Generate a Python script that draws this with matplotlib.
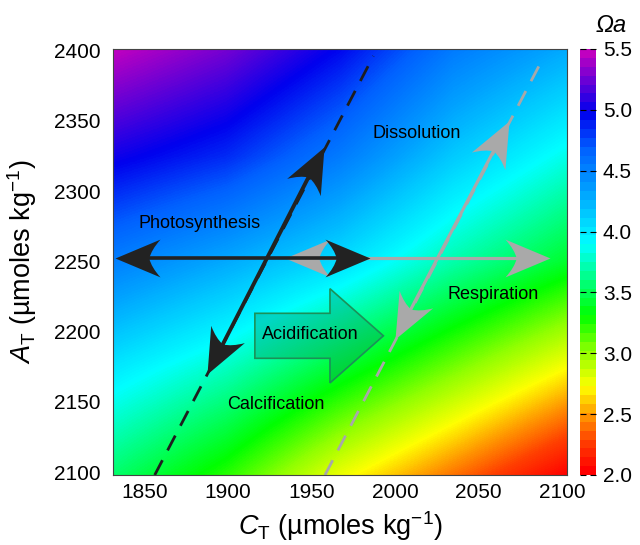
import numpy as np
import matplotlib
matplotlib.use("Agg")
import matplotlib.pyplot as plt
from matplotlib.colors import LinearSegmentedColormap, Normalize
from matplotlib.markers import MarkerStyle
from matplotlib.path import Path
from matplotlib.patches import FancyArrow
from matplotlib.transforms import Affine2D
import matplotlib.cm as cm

plt.rcParams['font.family'] = ['Liberation Sans', 'DejaVu Sans']
plt.rcParams['mathtext.fontset'] = 'custom'
plt.rcParams['mathtext.rm'] = 'Liberation Sans'
plt.rcParams['mathtext.it'] = 'Liberation Sans:italic'

ct_nodes = [1831, 1899, 1967, 2035, 2103]
at_nodes = [2098, 2174, 2250, 2325, 2401]
omega = [
    [3.55, 3.22, 2.75, 2.38, 2.00],   # AT 2098
    [4.00, 3.75, 3.40, 3.05, 2.70],
    [4.52, 4.30, 4.05, 3.70, 3.40],
    [5.04, 4.87, 4.55, 4.15, 3.85],
    [5.50, 5.30, 4.98, 4.55, 4.30],   # AT 2401
]

# colour scale
cmap_vals = [2.0, 2.25, 2.45, 2.7, 3.0, 3.3, 3.9, 4.35, 4.7, 5.0, 5.5]
cmap_colors = ['#ff0000', '#ff4000', '#ff9000', '#ffff00', '#90ff00', '#00ff00',
               '#00ffff', '#00a0ff', '#0060ff', '#0000ee', '#c000c0']
cbar_ticks = [2.0, 2.5, 3.0, 3.5, 4.0, 4.5, 5.0, 5.5]

# process lines (CT, AT)
calc_line_ct = [1856, 1987]
calc_line_at = [2098, 2396]
resp_line_ct = [1958, 2088]
resp_line_at = [2098, 2393]

# arrows
calc_arrow_ct = [1887.5, 1957.5]
calc_arrow_at = [2169.5, 2331.5]
photo_arrow_ct = [1832, 1985]
photo_arrow_at = [2252, 2252]
resp_arrow_ct = [1934, 2093]
resp_arrow_at = [2252, 2252]
diss_arrow_ct = [2000, 2068.5]
diss_arrow_at = [2194.5, 2350]
acid_ct = [1916, 1993]
acid_at = 2197

labels = ['Dissolution', 'Photosynthesis', 'Respiration', 'Acidification', 'Calcification']
label_ct = [2013, 1883, 2058.5, 1949, 1928.5]
label_at = [2341, 2277, 2226.5, 2198, 2148]

xlim = (1831, 2103)
ylim = (2098, 2401)

fig = plt.figure(figsize=(6.4, 5.45), dpi=100)
ax = fig.add_axes([113 / 640, 70 / 545, 454 / 640, 426 / 545])

cmap = LinearSegmentedColormap.from_list(
    'omega', [((v - 2.0) / 3.5, c) for v, c in zip(cmap_vals, cmap_colors)])
norm = Normalize(2.0, 5.5)

dct = (ct_nodes[-1] - ct_nodes[0]) / (len(ct_nodes) - 1)
dat = (at_nodes[-1] - at_nodes[0]) / (len(at_nodes) - 1)
ax.imshow(np.array(omega), origin='lower', cmap=cmap, norm=norm, aspect='auto',
          interpolation='bilinear', interpolation_stage='data',
          extent=[ct_nodes[0] - dct / 2, ct_nodes[-1] + dct / 2,
                  at_nodes[0] - dat / 2, at_nodes[-1] + dat / 2])
ax.set_xlim(*xlim)
ax.set_ylim(*ylim)

ax.plot(calc_line_ct, calc_line_at, color='#1e1e1e', lw=2, dashes=(6, 4), zorder=2)
ax.plot(resp_line_ct, resp_line_at, color='#a8a8a8', lw=2, dashes=(6, 4), zorder=2)


def head_marker(angle):
    # arrowhead with tip at the origin and a concave, notched back
    verts = [(0, 0), (-1, 0.42), (-0.8, 0.2), (-0.75, 0),
             (-0.8, -0.2), (-1, -0.42), (0, 0)]
    codes = [Path.MOVETO, Path.LINETO, Path.CURVE3, Path.CURVE3,
             Path.CURVE3, Path.CURVE3, Path.CLOSEPOLY]
    return MarkerStyle(Path(verts, codes), transform=Affine2D().rotate_deg(angle))


def double_arrow(ct, at, color, lw, zorder, head_px=45):
    p0, p1 = ax.transData.transform([(ct[0], at[0]), (ct[1], at[1])])
    d = p1 - p0
    u = d / np.hypot(*d)
    ang = np.degrees(np.arctan2(d[1], d[0]))
    notch = 0.72 * head_px
    s0, s1 = ax.transData.inverted().transform([p0 + u * notch, p1 - u * notch])
    ax.plot([s0[0], s1[0]], [s0[1], s1[1]], color=color, lw=lw,
            solid_capstyle='butt', zorder=zorder)
    ms = 2 * head_px * 72 / fig.dpi
    ax.plot(ct[1], at[1], marker=head_marker(ang), ms=ms, color=color, mew=0, zorder=zorder)
    ax.plot(ct[0], at[0], marker=head_marker(ang + 180), ms=ms, color=color, mew=0, zorder=zorder)


double_arrow(resp_arrow_ct, resp_arrow_at, '#a9a9a9', 2.3, 3)
double_arrow(diss_arrow_ct, diss_arrow_at, '#a9a9a9', 2.3, 3)
double_arrow(photo_arrow_ct, photo_arrow_at, '#222222', 2.6, 4)
double_arrow(calc_arrow_ct, calc_arrow_at, '#222222', 2.8, 4)

acid = FancyArrow(acid_ct[0], acid_at, acid_ct[1] - acid_ct[0], 0, width=32,
                  head_width=67, head_length=32, length_includes_head=True,
                  facecolor=(0, 0.56, 0.38, 0.35), edgecolor='#1b9158', lw=1.2, zorder=5)
ax.add_patch(acid)

for s, x, y in zip(labels, label_ct, label_at):
    ax.text(x, y, s, fontsize=13, ha='center', va='center', zorder=6)

ax.set_xticks([1850, 1900, 1950, 2000, 2050, 2100])
ax.set_yticks([2100, 2150, 2200, 2250, 2300, 2350, 2400])
ax.tick_params(axis='both', length=0, labelsize=15)
ax.tick_params(axis='x', pad=6)
ax.tick_params(axis='y', pad=9)
for sp in ax.spines.values():
    sp.set_color('#444444')
    sp.set_linewidth(0.8)

ax.set_xlabel(r'$C_{\mathrm{T}}$ (µmoles kg$^{\mathrm{-1}}$)', fontsize=19.5, labelpad=5)
ax.set_ylabel(r'$A_{\mathrm{T}}$ (µmoles kg$^{\mathrm{-1}}$)', fontsize=19.5, labelpad=11)

cax = fig.add_axes([580 / 640, 70 / 545, 16 / 640, 426 / 545])
sm = cm.ScalarMappable(norm=norm, cmap=cmap.resampled(48))
cb = fig.colorbar(sm, cax=cax, ticks=cbar_ticks, format='%.1f')
cb.outline.set_visible(False)
cax.tick_params(direction='in', length=4, width=0.8, left=True, right=True,
                labelsize=15, pad=5)
fig.text(611 / 640, 1 - 26 / 545, 'Ωa', fontsize=17, style='italic',
         ha='center', va='center')

fig.savefig('out.png', dpi=100)
